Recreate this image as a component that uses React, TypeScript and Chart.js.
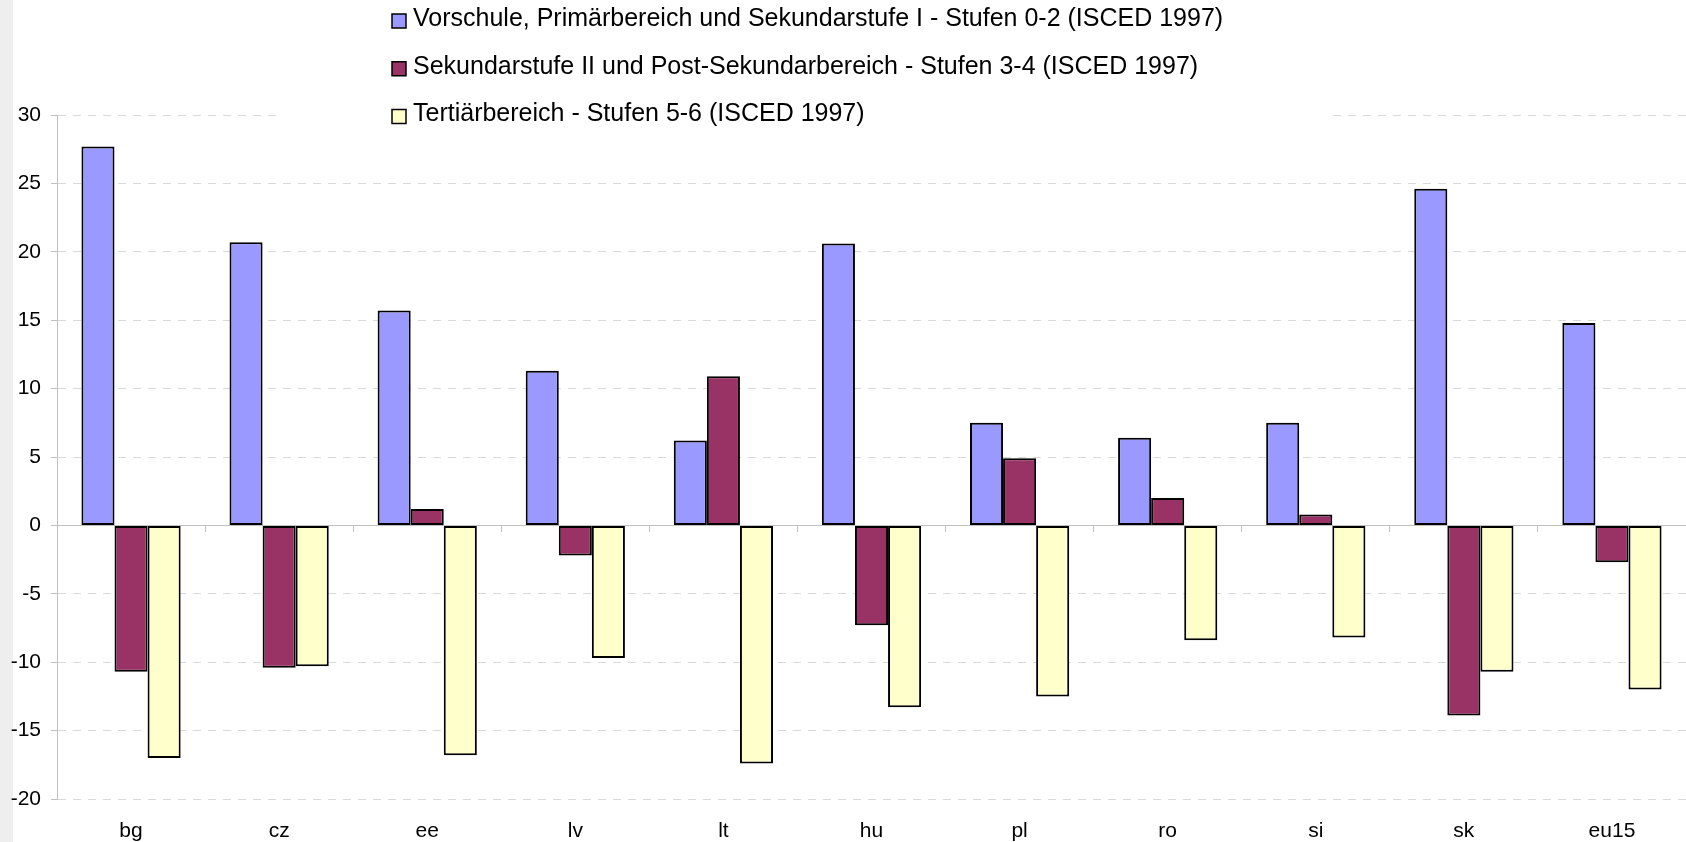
import React, { useEffect, useRef } from 'react';
import { Chart, registerables } from 'chart.js';

Chart.register(...registerables);

const categories = ['bg', 'cz', 'ee', 'lv', 'lt', 'hu', 'pl', 'ro', 'si', 'sk', 'eu15'];
const seriesLabels = [
  'Vorschule, Primärbereich und Sekundarstufe I - Stufen 0-2 (ISCED 1997)',
  'Sekundarstufe II und Post-Sekundarbereich - Stufen 3-4 (ISCED 1997)',
  'Tertiärbereich - Stufen 5-6 (ISCED 1997)',
];
const primaryValues = [27.7, 20.7, 15.7, 11.3, 6.2, 20.6, 7.5, 6.4, 7.5, 24.6, 14.8];
const secondaryValues = [-10.7, -10.4, 1.2, -2.2, 10.9, -7.3, 4.9, 2.0, 0.8, -13.9, -2.7];
const tertiaryValues = [-17.0, -10.3, -16.8, -9.7, -17.4, -13.3, -12.5, -8.4, -8.2, -10.7, -12.0];
const seriesColors = ['#9999FF', '#993366', '#FFFFCC'];
const yMin = -20;
const yMax = 30;
const yStep = 5;

const FONT = '"Liberation Sans", Arial, Helvetica, sans-serif';

const overlayLegend = {
  id: 'overlayLegend',
  afterDraw(chart: any) {
    const ctx = chart.ctx as CanvasRenderingContext2D;
    ctx.save();
    ctx.fillStyle = '#ffffff';
    ctx.fillRect(278, 0, 1052, 128);
    ctx.font = `25px ${FONT}`;
    ctx.textBaseline = 'middle';
    ctx.textAlign = 'left';
    chart.data.datasets.forEach((ds: any, i: number) => {
      const top = 14 + i * 47.75;
      ctx.fillStyle = ds.backgroundColor;
      ctx.fillRect(392, top, 14, 14);
      ctx.lineWidth = 1.5;
      ctx.strokeStyle = '#000';
      ctx.strokeRect(392, top, 14, 14);
      ctx.fillStyle = '#000';
      ctx.fillText(ds.label, 413, top + 5);
    });
    ctx.restore();
  },
};

export default function App() {
  const ref = useRef<HTMLCanvasElement | null>(null);

  useEffect(() => {
    if (!ref.current) return;
    const values = [primaryValues, secondaryValues, tertiaryValues];
    const chart = new Chart(ref.current, {
      type: 'bar',
      data: {
        labels: categories,
        datasets: values.map((v, i) => ({
          label: seriesLabels[i],
          data: v,
          backgroundColor: seriesColors[i],
          borderColor: '#000000',
          borderWidth: 2,
          borderSkipped: false,
          barPercentage: 1,
          categoryPercentage: 0.67,
          xAxisID: 'x',
          yAxisID: 'y',
        })),
      },
      options: {
        responsive: false,
        animation: false,
        layout: { padding: { top: 115, left: 0, right: 0, bottom: 0 } },
        plugins: {
          legend: { display: false },
          tooltip: { enabled: false },
        },
        scales: {
          x: {
            type: 'category',
            position: 'bottom',
            offset: true,
            grid: { display: false },
            border: { display: false },
            ticks: { color: '#000', font: { family: FONT, size: 21 }, padding: 12 },
            afterFit: (s: any) => {
              s.height = 43;
            },
          },
          x2: {
            type: 'category',
            axis: 'x',
            position: { y: 0 },
            offset: true,
            grid: {
              offset: true,
              drawOnChartArea: false,
              tickLength: 6,
              color: '#c0c0c0',
              tickColor: '#c0c0c0',
            },
            border: { display: true, color: '#c0c0c0', width: 1 },
            ticks: { display: false },
          },
          y: {
            type: 'linear',
            position: 'left',
            min: yMin,
            max: yMax,
            ticks: { stepSize: yStep, color: '#000', font: { family: FONT, size: 21 }, padding: 10 },
            grid: {
              color: (c: any) => (c.tick && c.tick.value === 0 ? '#c0c0c0' : '#d9d9d9'),
              tickColor: '#c0c0c0',
              tickLength: 6,
              lineWidth: 1,
            },
            border: {
              display: true,
              color: '#c0c0c0',
              width: 1,
              dash: (c: any) => (c.tick && c.tick.value === 0 ? [] : [8, 7]),
            },
            afterFit: (s: any) => {
              s.width = 57;
            },
          },
        } as any,
      },
      plugins: [overlayLegend],
    });
    return () => chart.destroy();
  }, []);

  return (
    <div
      style={{
        position: 'fixed',
        left: 0,
        top: 0,
        width: 1686,
        height: 842,
        background: 'linear-gradient(to right, #eeeeee 0px, #eeeeee 13px, #ffffff 13px)',
      }}
    >
      <canvas ref={ref} width={1686} height={842} style={{ display: 'block', width: 1686, height: 842 }} />
    </div>
  );
}
